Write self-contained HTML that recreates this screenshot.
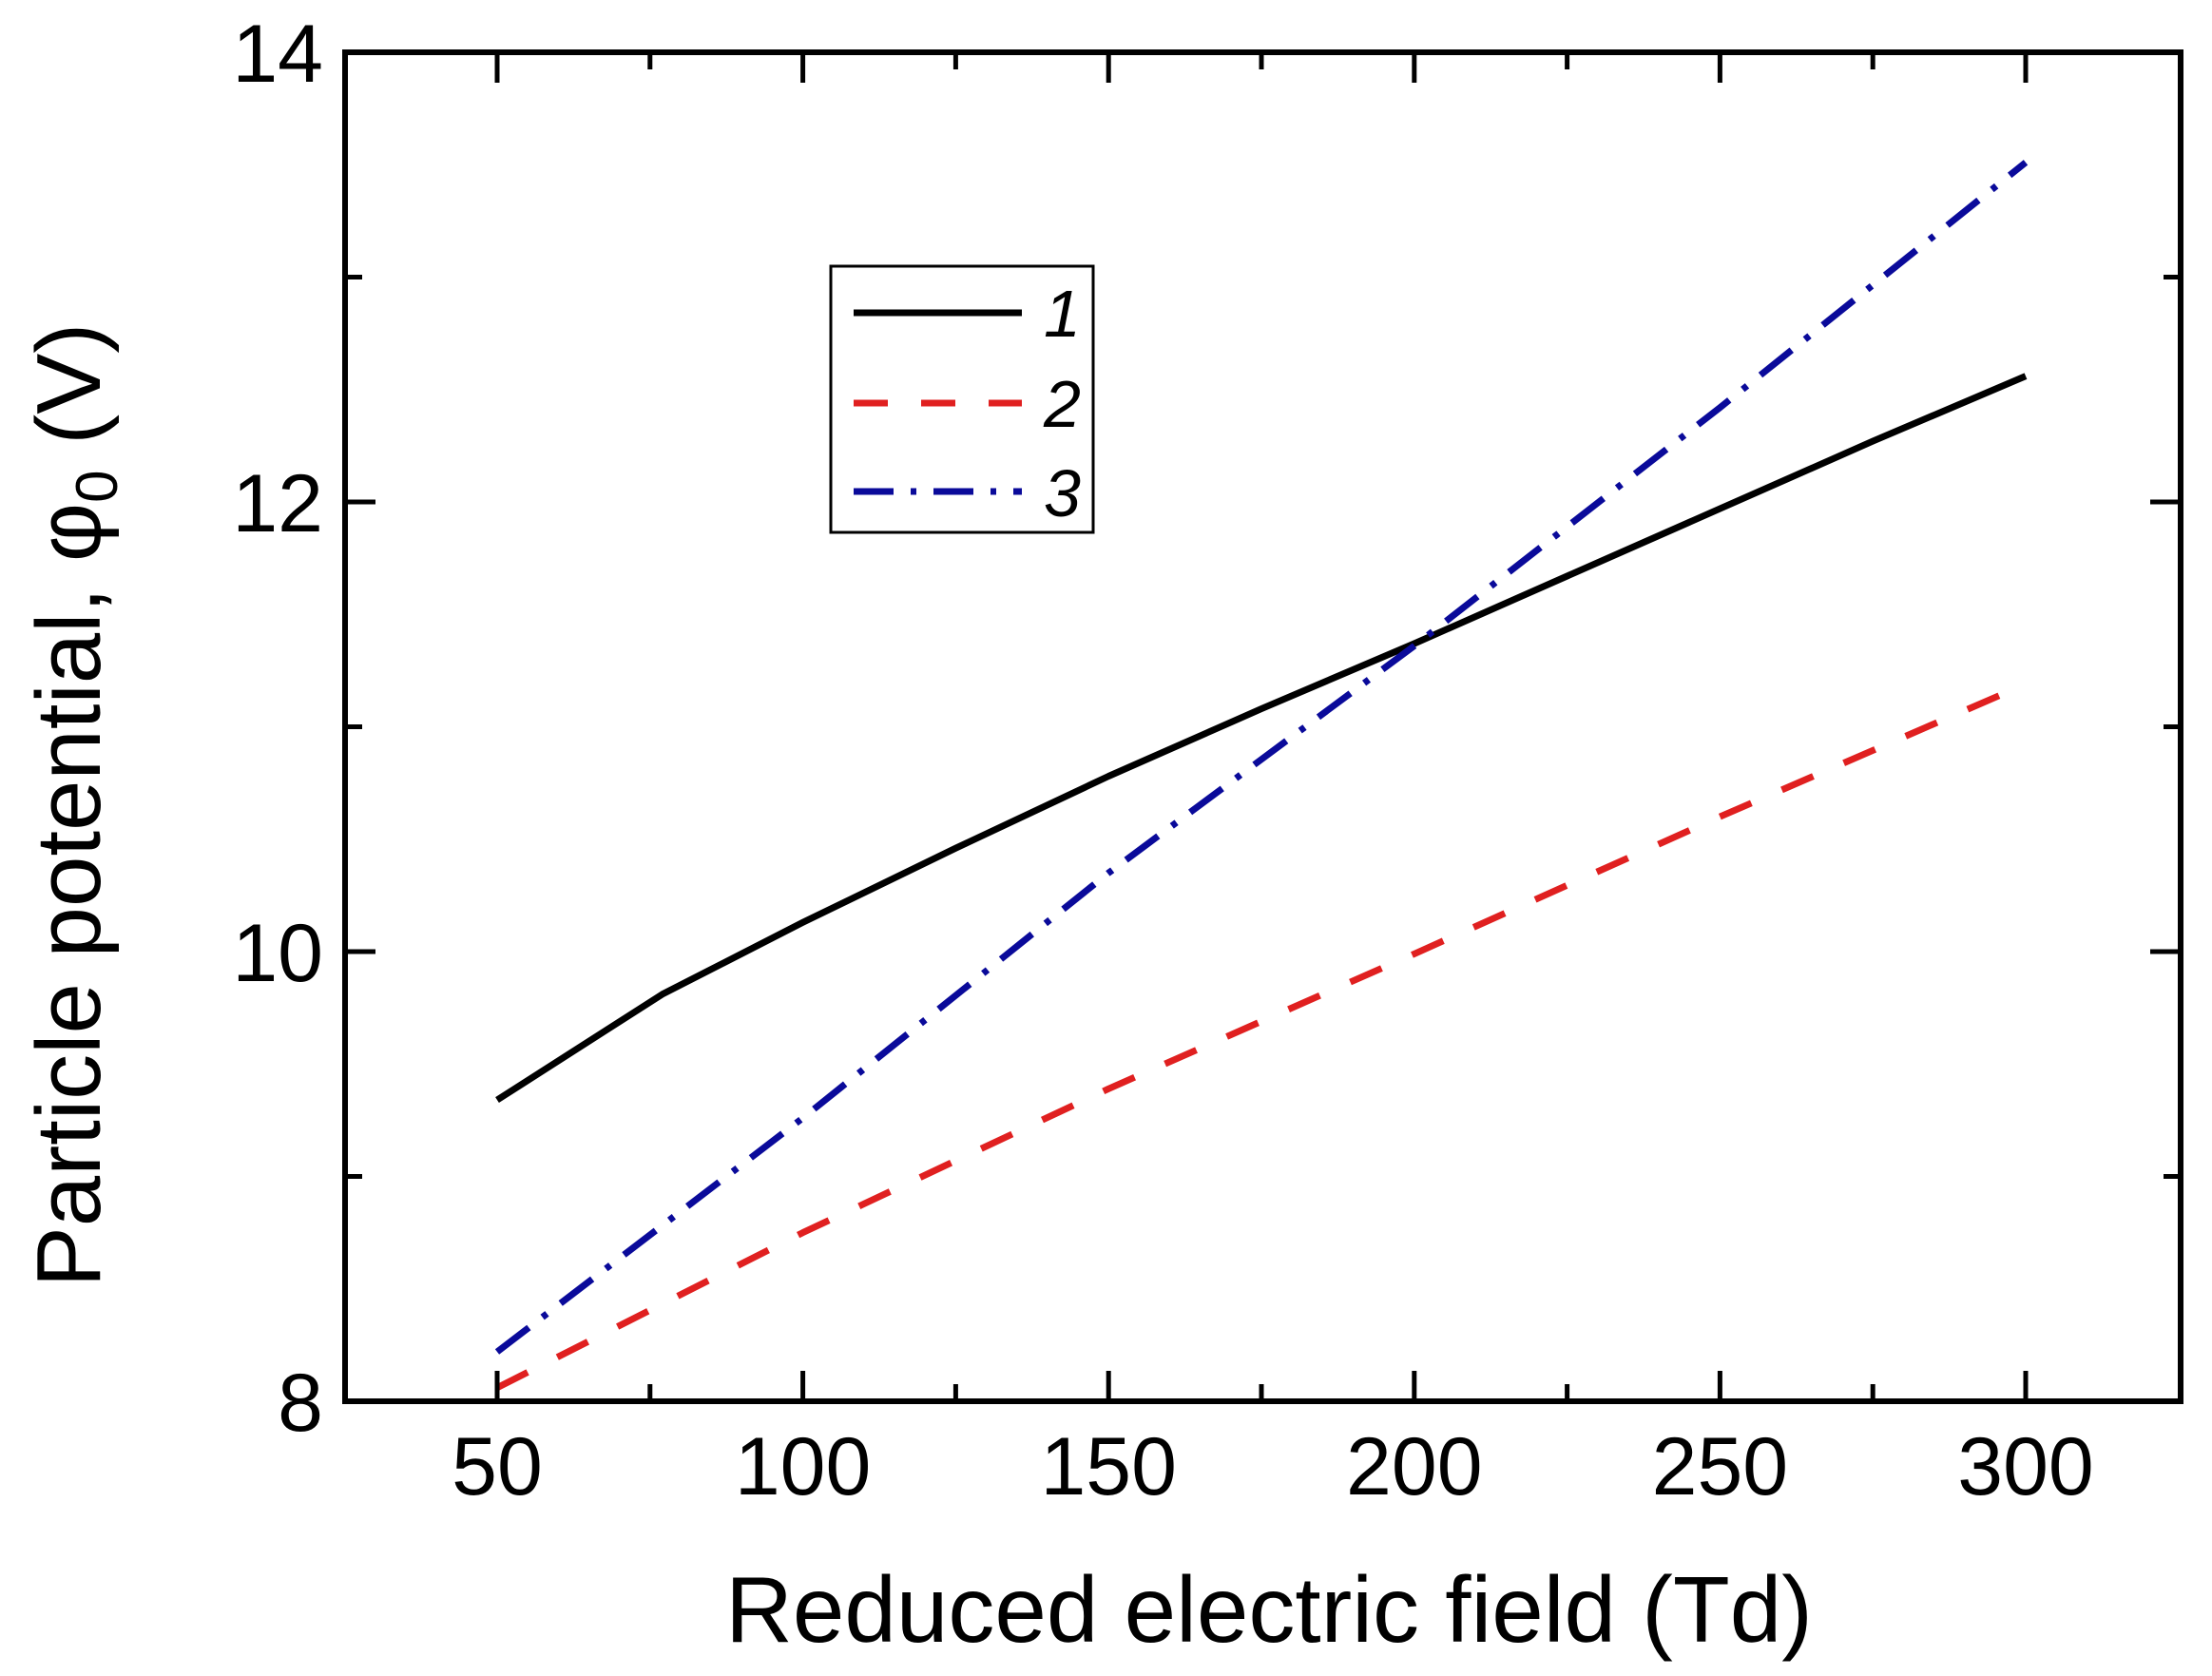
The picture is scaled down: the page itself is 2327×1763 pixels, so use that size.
<!DOCTYPE html>
<html><head><meta charset="utf-8"><style>
html,body{margin:0;padding:0;background:#fff;}
svg{display:block;}
text{font-family:"Liberation Sans",sans-serif;fill:#000;}
</style></head><body>
<svg id="chart" width="2327" height="1763" viewBox="0 0 2327 1763">
<g id="marks"></g>
<g id="axes"></g>
<g id="legend">
  <rect x="874" y="280" width="276" height="280" fill="#fff" stroke="#000" stroke-width="3"/>
  <line x1="898" y1="329" x2="1075" y2="329" stroke="#000" stroke-width="7"/>
  <text x="1098" y="354" font-size="70" font-style="italic">1</text>
  <line x1="898" y1="424" x2="1075" y2="424" stroke="#e02020" stroke-width="7" stroke-dasharray="36,35"/>
  <text x="1098" y="449" font-size="70" font-style="italic">2</text>
  <line x1="898" y1="517" x2="1075" y2="517" stroke="#0a0a9a" stroke-width="7" stroke-dasharray="42,18,6,18"/>
  <text x="1098" y="543" font-size="70" font-style="italic">3</text>
</g>
<text x="1335" y="1727" font-size="98" text-anchor="middle">Reduced electric field (Td)</text>
<text transform="translate(105,847) rotate(-90)" font-size="96" text-anchor="middle">Particle potential, φ<tspan font-size="62" dy="18">0</tspan><tspan dy="-18"> (V)</tspan></text>
</svg>
<script>
const xCats = [50, 77, 100, 125, 150, 175, 200, 225, 250, 275, 300];
const series1 = [9.34, 9.81, 10.13, 10.46, 10.78, 11.08, 11.37, 11.67, 11.97, 12.27, 12.56];
const xCats2 = [50, 100, 150, 200, 250, 300];
const series2 = [8.06, 8.75, 9.39, 9.99, 10.60, 11.19];
const series3 = [8.22, 9.26, 10.35, 11.36, 12.42, 13.51];
const xTicks = [50, 100, 150, 200, 250, 300];
const yTicks = [8, 10, 12, 14];

const L = 363, R = 2294, T = 55, B = 1474;
function xs(v){ return 523 + (v - 50) * (2131 - 523) / 250; }
function ys(v){ return B - (v - 8) * (B - T) / 6; }
const NS = 'http://www.w3.org/2000/svg';
const marks = document.getElementById('marks');
const axes = document.getElementById('axes');

function addPath(xsArr, vals, color, dash, name){
  const p = document.createElementNS(NS, 'path');
  p.setAttribute('d', vals.map((v,i)=>(i?'L':'M')+xs(xsArr[i]).toFixed(1)+','+ys(v).toFixed(1)).join(' '));
  p.setAttribute('fill','none');
  p.setAttribute('stroke', color);
  p.setAttribute('stroke-width','7');
  p.setAttribute('stroke-linejoin','round');
  if (dash) p.setAttribute('stroke-dasharray', dash);
  
  
  marks.appendChild(p);
}
addPath(xCats, series1, '#000', null, 'series-1-line');
addPath(xCats2, series2, '#e02020', '36,35', 'series-2-line');
addPath(xCats2, series3, '#0a0a9a', '42,18,6,18', 'series-3-line');

function line(x1,y1,x2,y2,w,name){
  const l = document.createElementNS(NS,'line');
  l.setAttribute('x1',x1); l.setAttribute('y1',y1); l.setAttribute('x2',x2); l.setAttribute('y2',y2);
  l.setAttribute('stroke','#000'); l.setAttribute('stroke-width',w);
  
  
  axes.appendChild(l);
}
const fr = document.createElementNS(NS,'rect');
fr.setAttribute('x',L); fr.setAttribute('y',T); fr.setAttribute('width',R-L); fr.setAttribute('height',B-T);
fr.setAttribute('fill','none'); fr.setAttribute('stroke','#000'); fr.setAttribute('stroke-width','6');


axes.appendChild(fr);

for (let v = 50; v <= 300; v += 25){
  const major = xTicks.includes(v);
  const len = major ? 32 : 18;
  const x = xs(v);
  line(x, B, x, B-len, 5, 'x-tick');
  line(x, T, x, T+len, 5, 'x-tick-top');
}
for (let v = 8; v <= 14; v += 1){
  const major = yTicks.includes(v);
  const len = major ? 32 : 18;
  const y = ys(v);
  line(L, y, L+len, y, 5, 'y-tick');
  line(R, y, R-len, y, 5, 'y-tick-right');
}
xTicks.forEach(v=>{
  const t = document.createElementNS(NS,'text');
  t.setAttribute('x', xs(v)); t.setAttribute('y', 1572);
  t.setAttribute('font-size','86'); t.setAttribute('text-anchor','middle');
  t.textContent = v;
  
  
  axes.appendChild(t);
});
yTicks.forEach(v=>{
  const t = document.createElementNS(NS,'text');
  t.setAttribute('x', 340); t.setAttribute('y', ys(v)+31);
  t.setAttribute('font-size','86'); t.setAttribute('text-anchor','end');
  t.textContent = v;
  
  
  axes.appendChild(t);
});
</script>
</body></html>
